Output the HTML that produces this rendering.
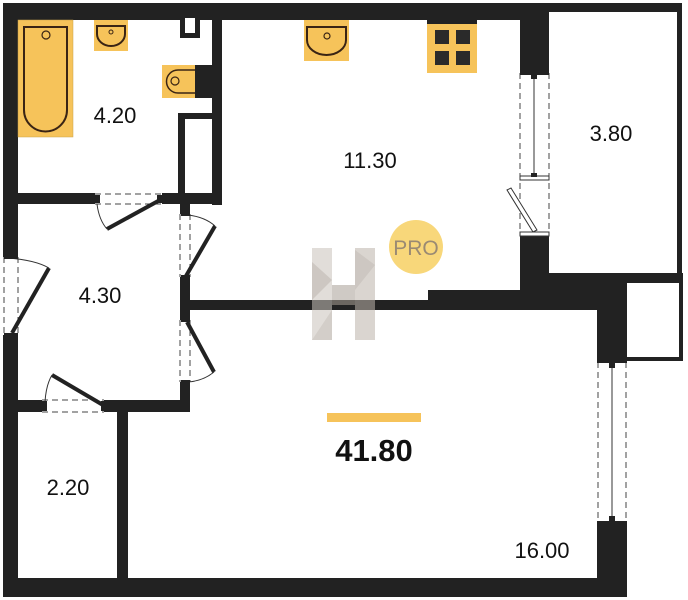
<!DOCTYPE html>
<html><head><meta charset="utf-8"><style>
html,body{margin:0;padding:0;background:#fff;width:688px;height:600px;overflow:hidden}
svg{display:block}
text{font-family:"Liberation Sans",sans-serif}
</style></head><body>
<svg width="688" height="600" viewBox="0 0 688 600" xmlns="http://www.w3.org/2000/svg">
<g fill="#222">
<rect x="3" y="3" width="545" height="17"/>
<rect x="3" y="3" width="15" height="254"/>
<rect x="3" y="335" width="15" height="262"/>
<rect x="3" y="578" width="624" height="19"/>
<rect x="520" y="3" width="29" height="70"/>
<rect x="520" y="235" width="29" height="75"/>
<rect x="548" y="3" width="133" height="9"/>
<rect x="677" y="3" width="5" height="280"/>
<rect x="520" y="273" width="163" height="10"/>
<rect x="520" y="273" width="107" height="37"/>
<rect x="679" y="283" width="4" height="78"/>
<rect x="627" y="357" width="56" height="4"/>
<rect x="597" y="273" width="30" height="89"/>
<rect x="597" y="523" width="30" height="74"/>
<rect x="190" y="300" width="410" height="10"/>
<rect x="428" y="290" width="172" height="20"/>
<rect x="212" y="3" width="10" height="202"/>
<rect x="18" y="193" width="77" height="11"/>
<rect x="162" y="193" width="60" height="11"/>
<rect x="178" y="113" width="7" height="90"/>
<rect x="178" y="113" width="34" height="6"/>
<rect x="180" y="18" width="20" height="20"/>
<rect x="180" y="204" width="10" height="10"/>
<rect x="180" y="277" width="10" height="43"/>
<rect x="180" y="382" width="10" height="30"/>
<rect x="18" y="400" width="24" height="12"/>
<rect x="104" y="400" width="86" height="12"/>
<rect x="117" y="412" width="11" height="166"/>
<rect x="195" y="65" width="17" height="33"/>
</g>
<rect x="185" y="18" width="10" height="15" fill="#fff"/>

<rect x="18" y="20" width="55" height="117" fill="#f6c35a" stroke="#c9a24a" stroke-width="0.5"/>
<path d="M24 27 H67 V110 A21.5 21.5 0 0 1 24 110 Z" fill="none" stroke="#3a2414" stroke-width="2"/>
<circle cx="46" cy="35" r="4" fill="none" stroke="#3a2414" stroke-width="1.2"/>
<rect x="94" y="20" width="34" height="31" fill="#f6c35a"/>
<path d="M97 26 H125 V34 A14 12 0 0 1 97 34 Z" fill="none" stroke="#3a2414" stroke-width="2"/>
<circle cx="111" cy="32" r="2" fill="none" stroke="#3a2414"/>
<rect x="162" y="65" width="33" height="33" fill="#f6c35a"/>
<path d="M195 70 H178 A11 11 0 0 0 178 93 H195" fill="none" stroke="#3a2414" stroke-width="1.5"/>
<circle cx="175" cy="81" r="4" fill="none" stroke="#3a2414" stroke-width="1.2"/>
<rect x="304" y="20" width="45" height="41" fill="#f6c35a"/>
<path d="M307 27 H346 V40 A19.5 15 0 0 1 307 40 Z" fill="none" stroke="#3a2414" stroke-width="2"/>
<circle cx="327" cy="36" r="3" fill="none" stroke="#3a2414" stroke-width="1.2"/>
<rect x="427" y="20" width="50" height="53" fill="#f6c35a"/>
<rect x="427" y="20" width="50" height="4" fill="#222"/>
<g fill="#2a2a2a"><rect x="435" y="30" width="14" height="14"/><rect x="456" y="30" width="14" height="14"/><rect x="435" y="51" width="14" height="14"/><rect x="456" y="51" width="14" height="14"/></g>

<g stroke="#444" stroke-width="1" stroke-dasharray="6,4" fill="none">
<line x1="4" y1="257" x2="4" y2="335"/><line x1="18" y1="257" x2="18" y2="335"/>
<line x1="95" y1="194" x2="162" y2="194"/><line x1="95" y1="204" x2="162" y2="204"/>
<line x1="180" y1="214" x2="180" y2="277"/><line x1="190" y1="214" x2="190" y2="277"/>
<line x1="180" y1="320" x2="180" y2="382"/><line x1="190" y1="320" x2="190" y2="382"/>
<line x1="42" y1="400" x2="104" y2="400"/><line x1="42" y1="412" x2="104" y2="412"/>
<line x1="520" y1="73" x2="520" y2="235"/><line x1="549" y1="73" x2="549" y2="235"/>
<line x1="598" y1="362" x2="598" y2="523"/><line x1="626" y1="362" x2="626" y2="523"/>
</g>
<g stroke="#222" stroke-width="4" fill="none">
<line x1="12" y1="333" x2="49" y2="268"/>
<line x1="160" y1="200" x2="107" y2="229"/>
<line x1="186" y1="276" x2="215" y2="226"/>
<line x1="187" y1="322" x2="214" y2="372"/>
<line x1="103" y1="405" x2="52" y2="375"/>
</g>
<g stroke="#333" stroke-width="1" fill="none">
<path d="M8 258 Q35 260 49 268"/>
<path d="M97 204 Q99 220 107 229"/>
<path d="M188 215 Q205 217 215 226"/>
<path d="M214 372 Q203 381 188 382"/>
<path d="M45 402 Q46 385 52 375"/>
<line x1="534" y1="76" x2="534" y2="176"/>
<line x1="612" y1="364" x2="612" y2="521"/>
<polygon points="507,190 511,188 537,230 533,232" fill="#fff"/>
<rect x="520" y="176" width="29" height="4" fill="#fff"/>
<rect x="520" y="232" width="29" height="4" fill="#fff"/>
</g>
<g fill="#222">
<rect x="4" y="255" width="14" height="4"/><rect x="4" y="333" width="14" height="4"/>
<rect x="95" y="195" width="5" height="8"/><rect x="157" y="195" width="5" height="8"/>
<rect x="181" y="212" width="9" height="4"/><rect x="181" y="275" width="9" height="4"/>
<rect x="181" y="318" width="9" height="4"/><rect x="181" y="380" width="9" height="4"/>
<rect x="42" y="401" width="5" height="10"/><rect x="101" y="401" width="5" height="10"/>
<rect x="520" y="71" width="29" height="4"/><rect x="531" y="74" width="6" height="5"/><rect x="531" y="173" width="6" height="4"/>
<rect x="597" y="359" width="30" height="4"/><rect x="609" y="362" width="6" height="6"/>
<rect x="597" y="521" width="30" height="4"/><rect x="609" y="516" width="6" height="6"/>
</g>

<g opacity="0.55">
<rect x="312" y="248" width="20" height="92" fill="#c9c2bb"/>
<rect x="355" y="248" width="20" height="92" fill="#bdb4ab"/>
<rect x="332" y="285" width="23" height="20" fill="#a9a096"/>
<polygon points="312,262 332,280 312,300" fill="#a59b91"/>
<polygon points="355,250 375,265 355,290" fill="#a59b91"/>
<polygon points="332,310 312,340 332,340" fill="#b0a79e"/>
</g>

<circle cx="416" cy="247" r="27" fill="#f8d77a"/>
<text x="416" y="255" font-size="21" fill="#9a8a73" text-anchor="middle">PRO</text>

<g font-size="22" fill="#111" text-anchor="middle">
<text x="115" y="123">4.20</text>
<text x="370" y="168">11.30</text>
<text x="611" y="141">3.80</text>
<text x="100" y="303">4.30</text>
<text x="68" y="495">2.20</text>
<text x="542" y="558">16.00</text>
</g>
<rect x="327" y="413" width="94" height="9" fill="#f6c35a"/>
<text x="374" y="461" font-size="31" font-weight="bold" fill="#111" text-anchor="middle">41.80</text>
</svg>
</body></html>
